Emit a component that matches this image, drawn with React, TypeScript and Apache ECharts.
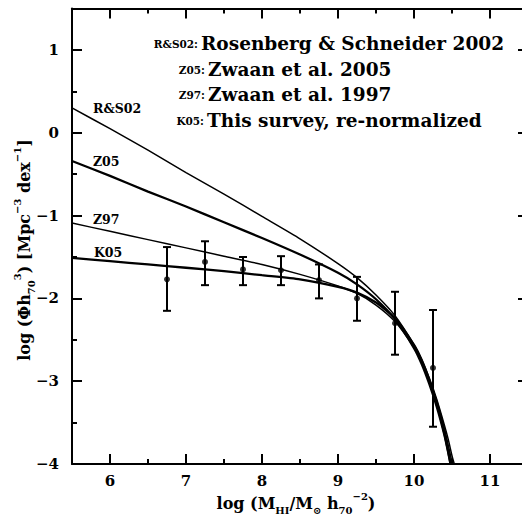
import React, { useEffect, useRef } from "react";
import * as echarts from "echarts";

// ---- tick values ----
const X_MAJOR = [6, 7, 8, 9, 10, 11];
const X_MINOR = [6.5, 7.5, 8.5, 9.5, 10.5];
const Y_MAJOR = [-4, -3, -2, -1, 0, 1];
const Y_MINOR = [-3.5, -2.5, -1.5, -0.5, 0.5];

// ---- mass function curves (log M, log phi) ----
const RS02_X = [5.5, 6, 6.5, 7, 7.5, 8, 8.5, 9, 9.25, 9.5, 9.75, 10, 10.1, 10.2, 10.3, 10.4, 10.45, 10.5, 10.53];
const RS02_Y = [0.30, 0.05, -0.21, -0.48, -0.74, -1.01, -1.28, -1.58, -1.75, -1.96, -2.21, -2.56, -2.74, -2.96, -3.22, -3.53, -3.70, -3.90, -4.0];

const Z05_X = [5.5, 6, 6.5, 7, 7.5, 8, 8.5, 9, 9.25, 9.5, 9.75, 10, 10.1, 10.2, 10.3, 10.4, 10.45, 10.48];
const Z05_Y = [-0.34, -0.52, -0.71, -0.89, -1.08, -1.27, -1.47, -1.69, -1.83, -2.01, -2.25, -2.60, -2.79, -3.03, -3.31, -3.65, -3.86, -4.0];

const Z97_X = [5.5, 6, 6.5, 7, 7.5, 8, 8.5, 9, 9.25, 9.5, 9.75, 10, 10.1, 10.2, 10.3, 10.4, 10.45, 10.5];
const Z97_Y = [-1.09, -1.19, -1.29, -1.39, -1.49, -1.59, -1.71, -1.85, -1.94, -2.08, -2.28, -2.59, -2.76, -2.98, -3.24, -3.57, -3.77, -3.98];

const K05_X = [5.5, 6, 6.5, 7, 7.5, 8, 8.5, 9, 9.25, 9.5, 9.75, 10, 10.1, 10.2, 10.3, 10.4, 10.45, 10.48];
const K05_Y = [-1.51, -1.55, -1.59, -1.63, -1.67, -1.72, -1.77, -1.86, -1.93, -2.05, -2.24, -2.56, -2.74, -2.98, -3.27, -3.63, -3.85, -3.99];

// ---- survey points with error bars ----
const OBS_X = [6.75, 7.25, 7.75, 8.25, 8.75, 9.25, 9.75, 10.25];
const OBS_Y = [-1.77, -1.56, -1.65, -1.66, -1.78, -2.0, -2.3, -2.84];
const OBS_HI = [-1.38, -1.31, -1.5, -1.49, -1.59, -1.74, -1.92, -2.14];
const OBS_LO = [-2.15, -1.84, -1.84, -1.84, -2.0, -2.27, -2.68, -3.55];

// ---- texts ----
const LEGEND_ABBR = ["R&S02:", "Z05:", "Z97:", "K05:"];
const LEGEND_TEXT = [
  "Rosenberg & Schneider 2002",
  "Zwaan et al. 2005",
  "Zwaan et al. 1997",
  "This survey, re-normalized",
];
const CURVE_LABELS = ["R&S02", "Z05", "Z97", "K05"];

const SERIF = "DejaVu Serif";
const BLACK = "#000";

function zip(xs: number[], ys: number[]) {
  return xs.map((x, i) => [x, ys[i]]);
}

function xAxis(position: "top" | "bottom", ticks: number[], len: number, major: boolean) {
  return {
    type: "value",
    position,
    min: 5.5,
    max: 11.5,
    gridIndex: 0,
    axisLine: { show: major, onZero: false, lineStyle: { color: BLACK, width: 2 } },
    axisTick: { show: true, inside: true, length: len, customValues: ticks, lineStyle: { color: BLACK, width: 2 } },
    axisLabel: {
      show: major && position === "bottom",
      customValues: X_MAJOR,
      margin: 9,
      fontSize: 15,
      fontWeight: "bold",
      fontFamily: SERIF,
      color: BLACK,
    },
    splitLine: { show: false },
  };
}

function yAxis(position: "left" | "right", ticks: number[], len: number, major: boolean) {
  return {
    type: "value",
    position,
    min: -4,
    max: 1.5,
    gridIndex: 0,
    axisLine: { show: major, onZero: false, lineStyle: { color: BLACK, width: 2 } },
    axisTick: { show: true, inside: true, length: len, customValues: ticks, lineStyle: { color: BLACK, width: 2 } },
    axisLabel: {
      show: major && position === "left",
      customValues: Y_MAJOR,
      margin: 13,
      fontSize: 15,
      fontWeight: "bold",
      fontFamily: SERIF,
      color: BLACK,
      formatter: (v: number) => (v < 0 ? "\u2212" + Math.abs(v) : String(v)),
    },
    splitLine: { show: false },
  };
}

const SUBSUP_RICH = {
  s: { fontSize: 10, fontWeight: "bold", fontFamily: SERIF, fill: BLACK, verticalAlign: "bottom", lineHeight: 10 },
  p: { fontSize: 10, fontWeight: "bold", fontFamily: SERIF, fill: BLACK, verticalAlign: "top", lineHeight: 10 },
};

export default function App() {
  const ref = useRef<HTMLDivElement>(null);

  useEffect(() => {
    if (!ref.current) return;
    const chart = echarts.init(ref.current, null, { renderer: "svg" });

    const legendY = [43, 69, 94, 120];
    const legendX = [201, 208, 208, 207];
    const curveLabelPos = [
      [93, 108],
      [93, 161],
      [93, 219],
      [94, 252],
    ];

    const graphic: any[] = [];
    LEGEND_TEXT.forEach((t, i) => {
      graphic.push({
        type: "text",
        x: legendX[i],
        y: legendY[i],
        style: {
          text: t,
          fontSize: 18.5,
          fontWeight: "bold",
          fontFamily: SERIF,
          fill: BLACK,
          align: "left",
          verticalAlign: "middle",
        },
      });
      graphic.push({
        type: "text",
        x: legendX[i] - 3,
        y: legendY[i] + 1,
        style: {
          text: LEGEND_ABBR[i],
          fontSize: 10.5,
          fontWeight: "bold",
          fontFamily: SERIF,
          fill: BLACK,
          align: "right",
          verticalAlign: "middle",
        },
      });
    });
    CURVE_LABELS.forEach((t, i) => {
      graphic.push({
        type: "text",
        x: curveLabelPos[i][0],
        y: curveLabelPos[i][1],
        style: {
          text: t,
          fontSize: 12.5,
          fontWeight: "bold",
          fontFamily: SERIF,
          fill: BLACK,
          align: "left",
          verticalAlign: "middle",
        },
      });
    });
    // axis titles
    graphic.push({
      type: "text",
      x: 296,
      y: 503,
      style: {
        text: "log (M{s|HI}/M{s|\u2299} h{s|70}{p|\u22122})",
        rich: SUBSUP_RICH,
        fontSize: 16,
        lineHeight: 24,
        fontWeight: "bold",
        fontFamily: SERIF,
        fill: BLACK,
        align: "center",
        verticalAlign: "middle",
      },
    });
    graphic.push({
      type: "text",
      x: 24,
      y: 250,
      rotation: Math.PI / 2,
      style: {
        text: "log (\u03A6h{s|70}{p|3}) [Mpc{p|\u22123} dex{p|\u22121}]",
        rich: SUBSUP_RICH,
        fontSize: 16,
        lineHeight: 24,
        fontWeight: "bold",
        fontFamily: SERIF,
        fill: BLACK,
        align: "center",
        verticalAlign: "middle",
      },
    });

    const lineSeries = (name: string, xs: number[], ys: number[], width: number) => ({
      name,
      type: "line",
      xAxisIndex: 0,
      yAxisIndex: 0,
      data: zip(xs, ys),
      showSymbol: false,
      symbol: "none",
      smooth: 0.2,
      clip: true,
      lineStyle: { color: BLACK, width },
      z: 3,
    });

    const option: any = {
      animation: false,
      backgroundColor: "#fff",
      grid: { left: 72, top: 8.6, width: 456, height: 455.4, containLabel: false },
      xAxis: [
        xAxis("bottom", X_MAJOR, 10, true),
        xAxis("bottom", X_MINOR, 5, false),
        xAxis("top", X_MAJOR, 10, true),
        xAxis("top", X_MINOR, 5, false),
      ],
      yAxis: [
        yAxis("left", Y_MAJOR, 10, true),
        yAxis("left", Y_MINOR, 5, false),
        yAxis("right", Y_MAJOR, 10, true),
        yAxis("right", Y_MINOR, 5, false),
      ],
      series: [
        lineSeries("R&S02", RS02_X, RS02_Y, 1.5),
        lineSeries("Z05", Z05_X, Z05_Y, 2.3),
        lineSeries("Z97", Z97_X, Z97_Y, 1.5),
        lineSeries("K05", K05_X, K05_Y, 2.3),
        {
          name: "errors",
          type: "custom",
          xAxisIndex: 0,
          yAxisIndex: 0,
          data: OBS_X.map((x, i) => [x, OBS_Y[i], OBS_LO[i], OBS_HI[i]]),
          encode: { x: 0, y: [1, 2, 3] },
          renderItem: (params: any, api: any) => {
            const x = api.value(0);
            const lo = api.coord([x, api.value(2)]);
            const hi = api.coord([x, api.value(3)]);
            const w = 4;
            const style = { stroke: BLACK, lineWidth: 2 };
            return {
              type: "group",
              children: [
                { type: "line", shape: { x1: lo[0], y1: lo[1], x2: hi[0], y2: hi[1] }, style },
                { type: "line", shape: { x1: lo[0] - w, y1: lo[1], x2: lo[0] + w, y2: lo[1] }, style },
                { type: "line", shape: { x1: hi[0] - w, y1: hi[1], x2: hi[0] + w, y2: hi[1] }, style },
              ],
            };
          },
          z: 4,
        },
        {
          name: "K05 data",
          type: "scatter",
          xAxisIndex: 0,
          yAxisIndex: 0,
          data: zip(OBS_X, OBS_Y),
          symbol: "circle",
          symbolSize: 6,
          itemStyle: { color: BLACK },
          z: 5,
        },
      ],
      graphic,
    };

    chart.setOption(option);
    return () => chart.dispose();
  }, []);

  return (
    <div
      ref={ref}
      style={{ position: "fixed", left: 0, top: 0, width: 540, height: 515, background: "#fff" }}
    />
  );
}
